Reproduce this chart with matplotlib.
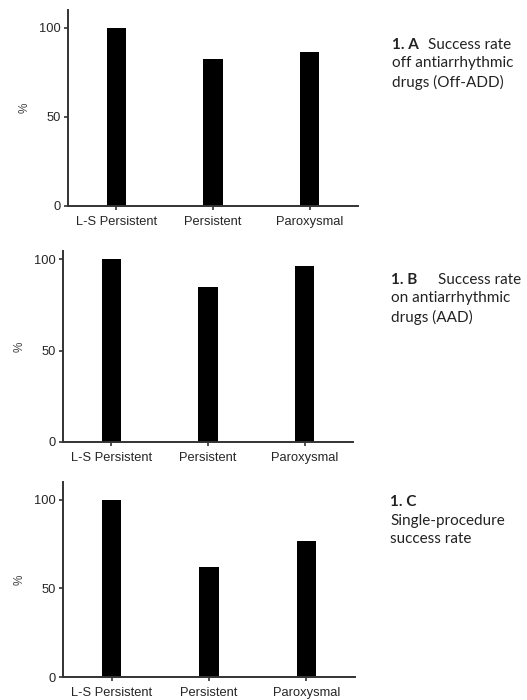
import matplotlib
matplotlib.use("Agg")
from matplotlib import pyplot as plt

groups = ["L-S Persistent", "Persistent", "Paroxysmal"]
off_add = [100, 82.5, 86.5]
on_add = [100, 85, 96.5]
single_procedure = [100, 62, 76.5]
y_ticks = [0, 50, 100]

panel_labels = ["1. A", "1. B", "1. C"]
panel_heads = ["Success rate", "Success rate", ""]
panel_lines = [
    ["off antiarrhythmic", "drugs (Off-ADD)"],
    ["on antiarrhythmic", "drugs (AAD)"],
    ["Single-procedure", "success rate"],
]

W, H = 527, 700
# axes boxes in pixels: left, top, right, bottom, y max
boxes = [
    (68, 10, 358, 206, 110),
    (63, 251, 353, 442, 104.5),
    (63, 482, 355, 677, 110),
]
# caption: x of label, x of heading, y of first line centre
caption_pos = [(392, 428, 45), (391, 438, 280), (390, 0, 502)]
line_step = 18.5

fig = plt.figure(figsize=(W / 100, H / 100), dpi=100)
axis_color = "#333333"
text_color = "#262626"
cap_font = dict(family="Lato", fontsize=11, color="#222222", va="center")

for values, (x0, y0, x1, y1, ymax), label, head, lines, (cx, hx, cy) in zip(
    [off_add, on_add, single_procedure], boxes, panel_labels, panel_heads,
    panel_lines, caption_pos
):
    ax = fig.add_axes([x0 / W, 1 - y1 / H, (x1 - x0) / W, (y1 - y0) / H])
    ax.bar(range(len(groups)), values, width=0.2, color="black")
    ax.set_xlim(-0.5, 2.5)
    ax.set_ylim(0, ymax)
    ax.set_yticks(y_ticks)
    ax.set_xticks(range(len(groups)))
    ax.set_xticklabels(groups, family="Liberation Sans", fontsize=9.3, color=text_color)
    for t in ax.get_yticklabels():
        t.set_family("Liberation Sans")
        t.set_fontsize(9.3)
        t.set_color(text_color)
    ax.set_ylabel("%", family="Liberation Sans", fontsize=8.5, color="#444444", labelpad=6)
    for side in ("top", "right"):
        ax.spines[side].set_visible(False)
    for side in ("left", "bottom"):
        ax.spines[side].set_linewidth(1.4)
        ax.spines[side].set_color(axis_color)
    ax.tick_params(axis="both", length=3, width=1.2, color=axis_color, pad=2)
    ax.tick_params(axis="x", pad=4)

    # caption to the right of each panel
    fig.text(cx / W, 1 - cy / H, label, fontweight="bold", **cap_font)
    if head:
        fig.text(hx / W, 1 - cy / H, head, **cap_font)
    for i, line in enumerate(lines, start=1):
        fig.text(cx / W, 1 - (cy + i * line_step) / H, line, **cap_font)

fig.savefig("out.png", dpi=100)
